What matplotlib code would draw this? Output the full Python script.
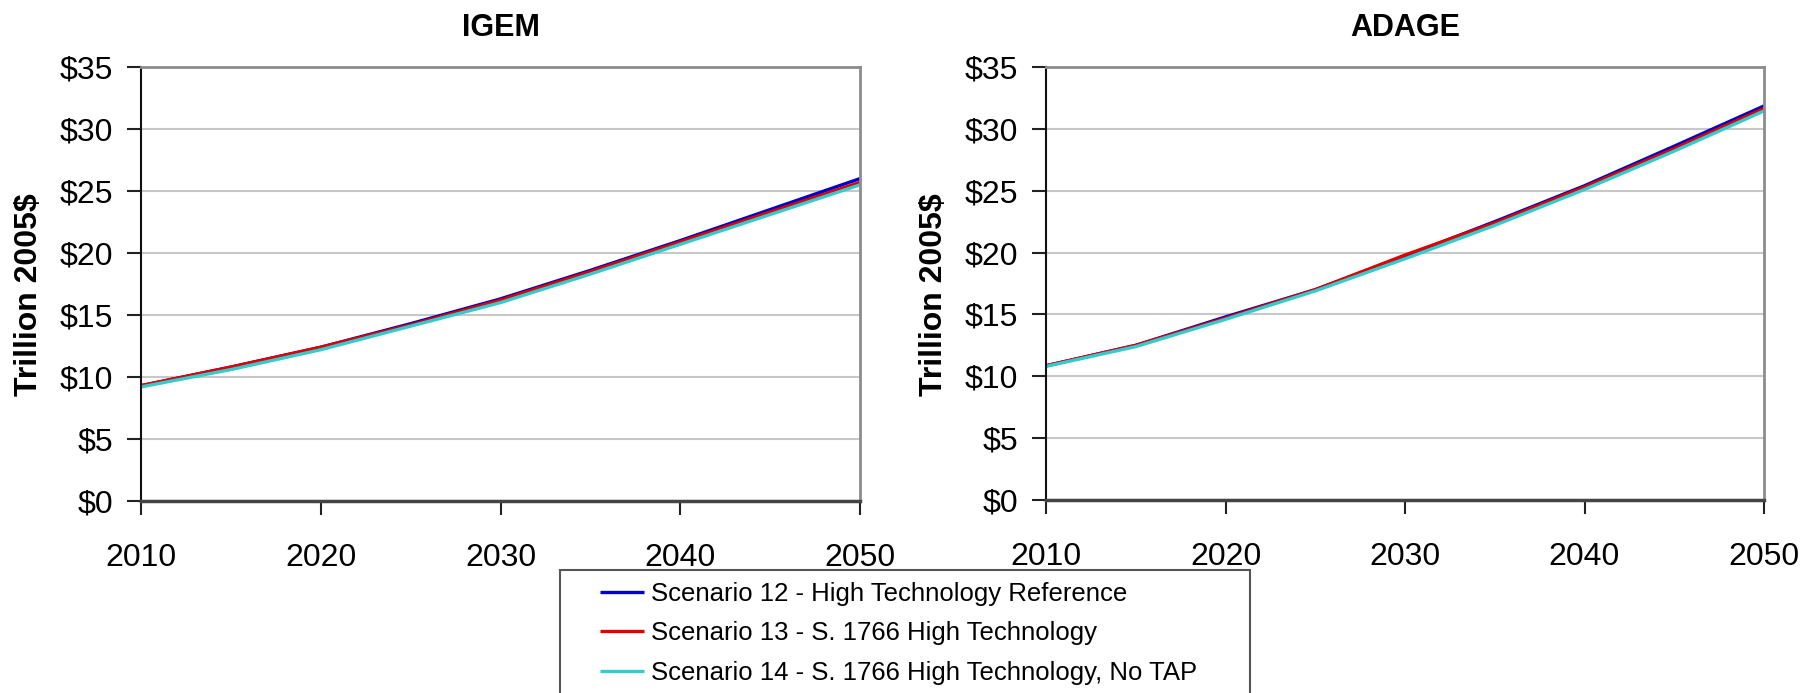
import matplotlib
matplotlib.use('Agg')
import matplotlib.pyplot as plt
import matplotlib.patches as mpatches

# ------------------------------------------------------------
# data, trillion 2005$
# ------------------------------------------------------------
years = [2010, 2015, 2020, 2025, 2030, 2035, 2040, 2045, 2050]

igem_s12 = [9.3, 10.8, 12.4, 14.3, 16.3, 18.6, 21.0, 23.5, 26.0]
igem_s13 = [9.3, 10.8, 12.4, 14.2, 16.2, 18.5, 20.9, 23.3, 25.7]
igem_s14 = [9.2, 10.6, 12.2, 14.1, 16.0, 18.3, 20.7, 23.1, 25.5]

adage_s12 = [10.85, 12.5, 14.8, 17.0, 19.7, 22.5, 25.4, 28.6, 31.85]
adage_s13 = [10.85, 12.5, 14.7, 17.0, 19.8, 22.4, 25.3, 28.4, 31.65]
adage_s14 = [10.8, 12.4, 14.6, 16.9, 19.5, 22.2, 25.1, 28.2, 31.45]

series_labels = ['Scenario 12 - High Technology Reference',
                 'Scenario 13 - S. 1766 High Technology',
                 'Scenario 14 - S. 1766 High Technology, No TAP']
series_colors = ['#0000cc', '#e00000', '#33cccc']

panels = [('IGEM', [igem_s12, igem_s13, igem_s14]),
          ('ADAGE', [adage_s12, adage_s13, adage_s14])]

y_ticks = [0, 5, 10, 15, 20, 25, 30, 35]
x_ticks = [2010, 2020, 2030, 2040, 2050]

plt.rcParams['font.family'] = ['Liberation Sans', 'DejaVu Sans']

W, H = 1803, 693
fig = plt.figure(figsize=(W / 100, H / 100), dpi=100)

# axes boxes in pixels: left, bottom(from top), width, height
boxes = [(141, 501, 719, 434), (1046, 500, 718, 433)]

for (title, data), (x0, yb, w, h) in zip(panels, boxes):
    ax = fig.add_axes([x0 / W, (H - yb) / H, w / W, h / H])
    for vals, col, lbl in zip(data, series_colors, series_labels):
        ax.plot(years, vals, color=col, lw=2.4, label=lbl, solid_capstyle='butt')
    ax.set_xlim(2010, 2050)
    ax.set_ylim(0, 35)
    ax.set_xticks(x_ticks)
    ax.set_yticks(y_ticks)
    ax.set_yticklabels([f'${v}' for v in y_ticks])
    ax.tick_params(axis='both', labelsize=23, length=10, width=1.5, color='#222222')
    ax.tick_params(axis='x', pad=20)
    ax.tick_params(axis='y', pad=10)
    ax.grid(axis='y', color='#c8c8c8', lw=1.5)
    ax.set_axisbelow(True)
    ax.spines['left'].set_color('#111111')
    ax.spines['left'].set_linewidth(1.5)
    ax.spines['bottom'].set_color('#444444')
    ax.spines['bottom'].set_linewidth(2.5)
    for s in ('top', 'right'):
        ax.spines[s].set_color('#8c8c8c')
        ax.spines[s].set_linewidth(2)
    ax.set_title(title, fontsize=22, fontweight='bold', pad=22)
    ax.set_ylabel('Trillion 2005$', fontsize=23, fontweight='bold')
    # label sits a bit lower than the axes centre in the original
    ax.yaxis.set_label_coords(-0.135, 0.475)

# legend box (cut off by the bottom edge like in the original)
box = mpatches.Rectangle((560 / W, -0.05), (1250 - 560) / W, (H - 570) / H + 0.05,
                         transform=fig.transFigure, fill=False,
                         edgecolor='#555555', lw=1.5)
fig.patches.append(box)

handles, labels = ax.get_legend_handles_labels()
fig.legend(handles, labels, loc='upper left', bbox_to_anchor=(600 / W, (H - 582) / H),
           frameon=False, fontsize=18.5, handlelength=1.7, handletextpad=0.3,
           labelspacing=0.6, borderpad=0, borderaxespad=0)

plt.savefig('out.png', dpi=100)
